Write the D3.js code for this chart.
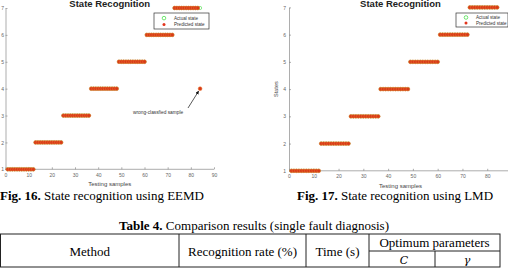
<!DOCTYPE html>
<html>
<head>
<meta charset="utf-8">
<script src="https://cdn.jsdelivr.net/npm/d3@7"></script>
<style>
  html, body { margin: 0; padding: 0; background: #fff; }
  svg { display: block; }
</style>
</head>
<body>
<svg id="page" width="508" height="268"></svg>
<script>
// données : numéros d'échantillons et états
var samples = [1,2,3,4,5,6,7,8,9,10,11,12,13,14,15,16,17,18,19,20,21,22,23,24,25,26,27,28,29,30,31,32,33,34,35,36,37,38,39,40,41,42,43,44,45,46,47,48,49,50,51,52,53,54,55,56,57,58,59,60,61,62,63,64,65,66,67,68,69,70,71,72,73,74,75,76,77,78,79,80,81,82,83,84];
var actualStates = [1,1,1,1,1,1,1,1,1,1,1,1,2,2,2,2,2,2,2,2,2,2,2,2,3,3,3,3,3,3,3,3,3,3,3,3,4,4,4,4,4,4,4,4,4,4,4,4,5,5,5,5,5,5,5,5,5,5,5,5,6,6,6,6,6,6,6,6,6,6,6,6,7,7,7,7,7,7,7,7,7,7,7,7];
// EEMD : le dernier échantillon est mal classé (7 -> 4)
var eemdPredicted = [1,1,1,1,1,1,1,1,1,1,1,1,2,2,2,2,2,2,2,2,2,2,2,2,3,3,3,3,3,3,3,3,3,3,3,3,4,4,4,4,4,4,4,4,4,4,4,4,5,5,5,5,5,5,5,5,5,5,5,5,6,6,6,6,6,6,6,6,6,6,6,6,7,7,7,7,7,7,7,7,7,7,7,4];
// LMD : tout est bien classé
var lmdPredicted = [1,1,1,1,1,1,1,1,1,1,1,1,2,2,2,2,2,2,2,2,2,2,2,2,3,3,3,3,3,3,3,3,3,3,3,3,4,4,4,4,4,4,4,4,4,4,4,4,5,5,5,5,5,5,5,5,5,5,5,5,6,6,6,6,6,6,6,6,6,6,6,6,7,7,7,7,7,7,7,7,7,7,7,7];
var xTicksEemd = [0,10,20,30,40,50,60,70,80,90];
var xTicksLmd = [0,10,20,30,40,50,60,70,80]; // le 90 sort de l'image
var yTicks = [1,2,3,4,5,6,7];
var tableHeaders = ["Method", "Recognition rate (%)", "Time (s)", "Optimum parameters"];
var paramHeaders = ["C", "γ"];

var svg = d3.select("#page");
var axisColor = "#8a8a8a";
var sans = "Arial, 'Liberation Sans', sans-serif";

function drawPanel(opt) {
  var x = d3.scaleLinear().domain([0, 90]).range(opt.xRange);
  var y = d3.scaleLinear().domain([1, 7]).range(opt.yRange);
  var g = svg.append("g");

  // axes (graduations vers l'intérieur, style matlab)
  var gx = g.append("g")
    .attr("transform", "translate(0," + opt.yRange[0] + ")")
    .call(d3.axisBottom(x).tickValues(opt.xTicks).tickFormat(d3.format("d")).tickSizeInner(-2).tickSizeOuter(0).tickPadding(4));
  var gy = g.append("g")
    .attr("transform", "translate(" + opt.xRange[0] + ",0)")
    .call(d3.axisLeft(y).tickValues(yTicks).tickFormat(d3.format("d")).tickSizeInner(-2).tickSizeOuter(0).tickPadding(opt.yPad));
  gx.select(".domain").attr("d", "M" + opt.xRange[0] + ",0H" + opt.xRange[1]);
  [gx, gy].forEach(function(a) {
    a.select(".domain").attr("stroke", axisColor).attr("stroke-width", 0.7);
    a.selectAll(".tick line").attr("stroke", axisColor).attr("stroke-width", 0.7);
    a.selectAll(".tick text").attr("fill", "#666").style("font-family", sans).style("font-size", "5px");
  });

  g.append("text")
    .attr("x", x(45)).attr("y", opt.yRange[0] + 17)
    .attr("text-anchor", "middle")
    .style("font-family", sans).style("font-size", "6px")
    .attr("fill", "#444")
    .text("Testing samples");

  if (opt.yLabel) {
    g.append("text")
      .attr("transform", "translate(" + (opt.xRange[0] - 11) + "," + y(4) + ") rotate(-90)")
      .attr("text-anchor", "middle")
      .style("font-family", sans).style("font-size", "5.5px")
      .attr("fill", "#444")
      .text(opt.yLabel);
  }

  g.append("text")
    .attr("x", x(45)).attr("y", 7)
    .attr("text-anchor", "middle")
    .style("font-family", sans).style("font-size", "9.5px").style("font-weight", "bold")
    .attr("fill", "#222")
    .text("State Recognition");

  // états réels : cercles verts (cachés sous les points rouges quand c'est bon)
  g.append("g").selectAll("circle")
    .data(samples)
    .enter().append("circle")
    .attr("cx", function(d) { return x(d); })
    .attr("cy", function(d, i) { return y(actualStates[i]); })
    .attr("r", 1.6)
    .attr("fill", "none")
    .attr("stroke", "#44dd44")
    .attr("stroke-width", 0.6);

  // états prédits : points rouges
  g.append("g").selectAll("circle")
    .data(samples)
    .enter().append("circle")
    .attr("cx", function(d) { return x(d); })
    .attr("cy", function(d, i) { return y(opt.predicted[i]); })
    .attr("r", 1.9)
    .attr("fill", "#d83a18")
    .attr("stroke", "#e87a30")
    .attr("stroke-width", 0.5);

  // légende
  var lg = g.append("g").attr("transform", "translate(" + opt.legend[0] + "," + opt.legend[1] + ")");
  lg.append("rect").attr("width", opt.legend[2]).attr("height", opt.legend[3])
    .attr("fill", "#fff").attr("stroke", "#333").attr("stroke-width", 0.7);
  lg.append("circle").attr("cx", 10).attr("cy", opt.legend[3] * 0.32).attr("r", 1.8)
    .attr("fill", "none").attr("stroke", "#33dd33").attr("stroke-width", 0.7);
  lg.append("circle").attr("cx", 10).attr("cy", opt.legend[3] * 0.72).attr("r", 1.5)
    .attr("fill", "#e2341c");
  lg.selectAll("text").data(["Actual state", "Predicted state"]).enter().append("text")
    .attr("x", 20).attr("y", function(d, i) { return opt.legend[3] * (i === 0 ? 0.32 : 0.72) + 1.7; })
    .style("font-family", sans).style("font-size", "4.6px")
    .attr("fill", "#333")
    .text(function(d) { return d; });

  return { x: x, y: y, g: g };
}

var left = drawPanel({
  xRange: [5.5, 214], yRange: [169.3, 8], predicted: eemdPredicted,
  xTicks: xTicksEemd, yPad: 1.5, legend: [154, 13, 55, 16]
});
var right = drawPanel({
  xRange: [289, 512], yRange: [170.8, 7.4], predicted: lmdPredicted,
  xTicks: xTicksLmd, yPad: 3, legend: [456, 13, 52, 14], yLabel: "States"
});

// annotation de l'échantillon mal classé
var wrongIdx = 83;
var wx = left.x(samples[wrongIdx]), wy = left.y(eemdPredicted[wrongIdx]);
svg.append("defs").append("marker")
  .attr("id", "arrow").attr("viewBox", "0 0 10 10").attr("refX", 9).attr("refY", 5)
  .attr("markerWidth", 5).attr("markerHeight", 5).attr("orient", "auto")
  .append("path").attr("d", "M0,0L10,5L0,10z").attr("fill", "#111");
left.g.append("line")
  .attr("x1", 188).attr("y1", 108).attr("x2", wx - 1.5).attr("y2", wy + 2.5)
  .attr("stroke", "#111").attr("stroke-width", 0.7)
  .attr("marker-end", "url(#arrow)");
left.g.append("text")
  .attr("x", 133).attr("y", 114)
  .style("font-family", sans).style("font-size", "4.8px")
  .attr("fill", "#333")
  .text("wrong-classfied sample");

// légendes des figures
var serif = "'Liberation Serif', 'Times New Roman', serif";
function caption(xPos, anchor, bold, rest, yPos) {
  var t = svg.append("text").attr("x", xPos).attr("y", yPos).attr("text-anchor", anchor)
    .style("font-family", serif).style("font-size", "13px").attr("fill", "#000");
  t.append("tspan").style("font-weight", "bold").text(bold);
  t.append("tspan").text(rest);
}
caption(0, "start", "Fig. 16.", " State recognition using EEMD", 200);
caption(395, "middle", "Fig. 17.", " State recognition using LMD", 200);
caption(254, "middle", "Table 4.", " Comparison results (single fault diagnosis)", 230);

// en-tête du tableau
var colX = [0.5, 179, 306, 369, 500];
var tb = svg.append("g").attr("stroke", "#222").attr("stroke-width", 1).attr("fill", "none");
tb.append("rect").attr("x", 0.5).attr("y", 234).attr("width", 499.5).attr("height", 33);
colX.slice(1, 4).forEach(function(cx) {
  tb.append("line").attr("x1", cx).attr("x2", cx).attr("y1", 234).attr("y2", 267);
});
tb.append("line").attr("x1", 369).attr("x2", 500).attr("y1", 251).attr("y2", 251);
tb.append("line").attr("x1", 435).attr("x2", 435).attr("y1", 251).attr("y2", 267);

svg.selectAll(".hdr").data(tableHeaders).enter().append("text")
  .attr("class", "hdr")
  .attr("x", function(d, i) { return (colX[i] + colX[i + 1]) / 2; })
  .attr("y", function(d, i) { return i === 3 ? 247 : 256; })
  .attr("text-anchor", "middle")
  .style("font-family", serif).style("font-size", "13px").attr("fill", "#000")
  .text(function(d) { return d; });
svg.selectAll(".par").data(paramHeaders).enter().append("text")
  .attr("class", "par")
  .attr("x", function(d, i) { return i === 0 ? 404 : 467; })
  .attr("y", 264)
  .attr("text-anchor", "middle")
  .style("font-family", "'DejaVu Serif', serif").style("font-style", "italic").style("font-size", "11px").attr("fill", "#000")
  .text(function(d) { return d; });
</script>
</body>
</html>
